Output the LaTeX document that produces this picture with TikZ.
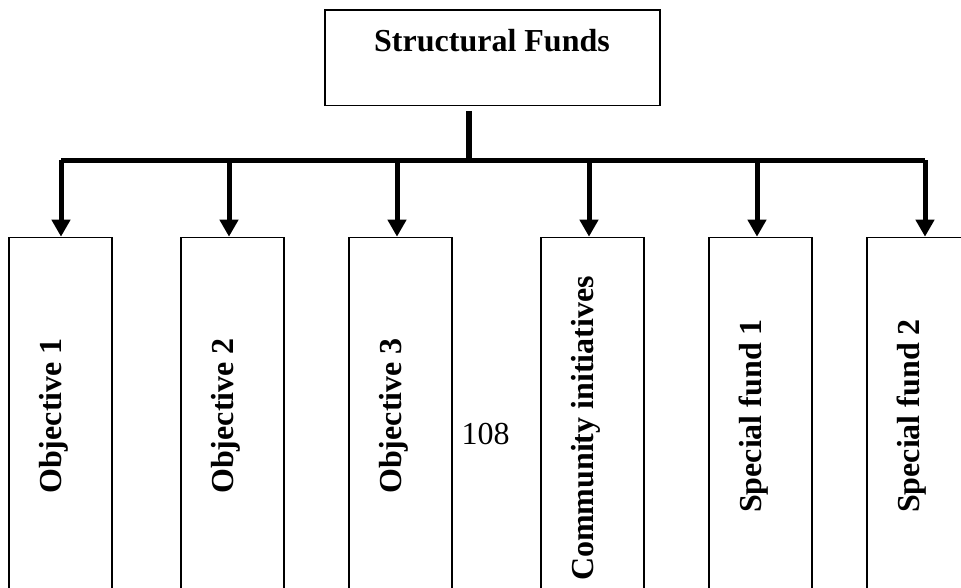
\documentclass[tikz,border=0pt]{standalone}
\usepackage{fontspec}
\setmainfont{Liberation Serif}
\usetikzlibrary{arrows.meta}
\begin{document}
\begin{tikzpicture}[x=1pt,y=-1pt,
  boxstyle/.style={draw, line width=1.6pt, inner sep=0pt},
  fundbox/.style={boxstyle, minimum width=103pt, minimum height=382pt},
  lbl/.style={font=\fontsize{32}{38}\selectfont\bfseries, rotate=90, anchor=base, inner sep=0pt},
  conn/.style={line width=5.5pt, line cap=square},
  arr/.style={line width=5pt, -{Triangle[width=18pt,length=17pt]}}]
\useasboundingbox (0,0) rectangle (961,588);
\clip (0,0) rectangle (961,588);
% top box
\node[boxstyle, minimum width=335pt, minimum height=95.5pt] (sf) at (492.5,57.75) {};
\node[font=\fontsize{32}{38}\selectfont\bfseries, anchor=base, inner sep=0pt] (sft) at (492,52) {Structural Funds};
% fund boxes
\node[fundbox] (b1) at (60.5,428.5) {};
\node[fundbox] (b2) at (232.5,428.5) {};
\node[fundbox] (b3) at (400.5,428.5) {};
\node[fundbox] (b4) at (592.5,428.5) {};
\node[fundbox] (b5) at (760.5,428.5) {};
\node[fundbox] (b6) at (918.5,428.5) {};
% labels
\node[lbl] (t1) at (61,416) {Objective 1};
\node[lbl] (t2) at (233,416) {Objective 2};
\node[lbl] (t3) at (401.5,416) {Objective 3};
\node[lbl] (t4) at (593,428.5) {Community initiatives};
\node[lbl] (t5) at (761,416) {Special fund 1};
\node[lbl] (t6) at (919,416) {Special fund 2};
\node[font=\fontsize{32}{38}\selectfont, anchor=base, inner sep=0pt] (pg) at (485.5,444) {108};
% junctions
\coordinate (j1) at (61,160.5);
\coordinate (j2) at (229,160.5);
\coordinate (j3) at (397,160.5);
\coordinate (j4) at (589,160.5);
\coordinate (j5) at (757,160.5);
\coordinate (j6) at (925,160.5);
\coordinate (st) at (469,111);
% connectors
\draw[conn] (st) -- (st |- j1);
\draw[conn] (j1) -- (j6);
\draw[arr] (j1) -- (j1 |- b1.north);
\draw[arr] (j2) -- (j2 |- b2.north);
\draw[arr] (j3) -- (j3 |- b3.north);
\draw[arr] (j4) -- (j4 |- b4.north);
\draw[arr] (j5) -- (j5 |- b5.north);
\draw[arr] (j6) -- (j6 |- b6.north);
\end{tikzpicture}
\end{document}
